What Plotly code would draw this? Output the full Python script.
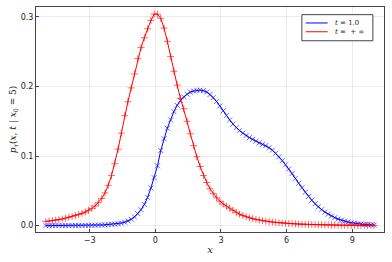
import numpy as np
import plotly.graph_objects as go

# x grid of the sampled points (-5 to 10, step 0.15)
x_values = np.round(np.linspace(-5, 10, 101), 2)

p_t1 = [
    0.0000, 0.0000, 0.0000, 0.0001, 0.0001, 0.0001, 0.0001, 0.0001, 0.0002, 0.0002,
    0.0002, 0.0003, 0.0003, 0.0004, 0.0005, 0.0006, 0.0008, 0.0010, 0.0012, 0.0015,
    0.0019, 0.0023, 0.0028, 0.0037, 0.0050, 0.0067, 0.0090, 0.0125, 0.0172, 0.0229,
    0.0305, 0.0406, 0.0540, 0.0690, 0.0860, 0.1080, 0.1250, 0.1400, 0.1520, 0.1640,
    0.1730, 0.1800, 0.1850, 0.1890, 0.1920, 0.1935, 0.1945, 0.1948, 0.1940, 0.1920,
    0.1885, 0.1840, 0.1785, 0.1720, 0.1650, 0.1585, 0.1520, 0.1460, 0.1410, 0.1365,
    0.1330, 0.1295, 0.1265, 0.1240, 0.1215, 0.1190, 0.1170, 0.1150, 0.1120, 0.1085,
    0.1040, 0.0990, 0.0935, 0.0875, 0.0815, 0.0750, 0.0680, 0.0610, 0.0545, 0.0480,
    0.0420, 0.0365, 0.0315, 0.0270, 0.0230, 0.0195, 0.0165, 0.0138, 0.0115, 0.0095,
    0.0078, 0.0064, 0.0052, 0.0042, 0.0034, 0.0027, 0.0022, 0.0017, 0.0014, 0.0011,
    0.0008,
]

p_tinf = [
    0.0060, 0.0066, 0.0072, 0.0079, 0.0087, 0.0095, 0.0108, 0.0120, 0.0132, 0.0145,
    0.0160, 0.0177, 0.0196, 0.0220, 0.0248, 0.0282, 0.0330, 0.0390, 0.0470, 0.0580,
    0.0720, 0.0890, 0.1100, 0.1330, 0.1580, 0.1780, 0.1980, 0.2180, 0.2400, 0.2560,
    0.2700, 0.2830, 0.2950, 0.3040, 0.3040, 0.2980, 0.2840, 0.2650, 0.2430, 0.2220,
    0.2020, 0.1830, 0.1680, 0.1500, 0.1320, 0.1150, 0.0990, 0.0850, 0.0720, 0.0620,
    0.0530, 0.0460, 0.0400, 0.0350, 0.0310, 0.0280, 0.0250, 0.0220, 0.0190, 0.0165,
    0.0145, 0.0128, 0.0113, 0.0100, 0.0089, 0.0080, 0.0072, 0.0065, 0.0058, 0.0052,
    0.0047, 0.0042, 0.0038, 0.0034, 0.0031, 0.0028, 0.0025, 0.0023, 0.0021, 0.0019,
    0.0017, 0.0016, 0.0014, 0.0013, 0.0012, 0.0011, 0.0010, 0.0009, 0.0008, 0.0008,
    0.0007, 0.0006, 0.0006, 0.0005, 0.0005, 0.0004, 0.0004, 0.0004, 0.0003, 0.0003,
    0.0003,
]

series_names = ["<i>t</i> = 1.0", "<i>t</i> =  + ∞"]
series_colors = ["#0000ff", "#ff0000"]
series_symbols = ["x-thin-open", "cross-thin-open"]
x_ticks = [-3, 0, 3, 6, 9]
x_tick_labels = ["−3", "0", "3", "6", "9"]
y_ticks = [0.0, 0.1, 0.2, 0.3]
y_tick_labels = ["0.0", "0.1", "0.2", "0.3"]

fig = go.Figure()
for ys, name, col, sym in zip([p_t1, p_tinf], series_names, series_colors, series_symbols):
    fig.add_trace(go.Scatter(
        x=x_values, y=ys, mode="lines", name=name, showlegend=False,
        line=dict(color=col, width=1),
    ))
    fig.add_trace(go.Scatter(
        x=x_values, y=ys, mode="markers", showlegend=False,
        marker=dict(symbol=sym, size=5, color=col, opacity=0.6,
                    line=dict(color=col, width=1)),
    ))

# compact legend box drawn in paper coordinates (like the reference)
legend_box = dict(x0=0.764, x1=0.968, y0=0.850, y1=0.966)
legend_rows_y = [0.929, 0.890]
fig.add_shape(type="rect", xref="paper", yref="paper", layer="above",
              fillcolor="white", line=dict(color="#444444", width=1), **legend_box)
for ry, name, col in zip(legend_rows_y, series_names, series_colors):
    fig.add_shape(type="line", xref="paper", yref="paper", layer="above",
                  x0=0.775, x1=0.838, y0=ry, y1=ry, line=dict(color=col, width=1))
    fig.add_annotation(xref="paper", yref="paper", x=0.853, y=ry, text=name,
                       showarrow=False, xanchor="left", yanchor="middle",
                       font=dict(family="DejaVu Serif", size=7, color="#222222"))

axis_common = dict(
    showline=True, mirror=True, linecolor="#444444", linewidth=1,
    showgrid=True, gridcolor="rgba(0,0,0,0.08)", gridwidth=1,
    zeroline=False, ticks="inside", ticklen=3, tickcolor="#444444",
    tickfont=dict(family="DejaVu Sans", size=8, color="#222222"),
    automargin=False,
)

fig.update_layout(
    width=392, height=262,
    margin=dict(l=36, r=8, t=7, b=30),
    paper_bgcolor="white", plot_bgcolor="white",
    showlegend=False,
    xaxis=dict(range=[-5.45, 10.45], tickvals=x_ticks, ticktext=x_tick_labels,
               title=dict(text="<i>x</i>", standoff=2,
                          font=dict(family="DejaVu Serif", size=10, color="#222222")),
               **axis_common),
    yaxis=dict(range=[-0.00915, 0.3143], tickvals=y_ticks, ticktext=y_tick_labels,
               title=dict(text="<i>p</i><sub><i>τ</i></sub>(<i>x</i>, <i>t</i> | <i>x</i><sub>0</sub> = 5)",
                          standoff=2,
                          font=dict(family="DejaVu Serif", size=9, color="#222222")),
               **axis_common),
)

fig.write_html("out.html", config={"displayModeBar": False},
               post_script="document.body.style.margin='0px';")
